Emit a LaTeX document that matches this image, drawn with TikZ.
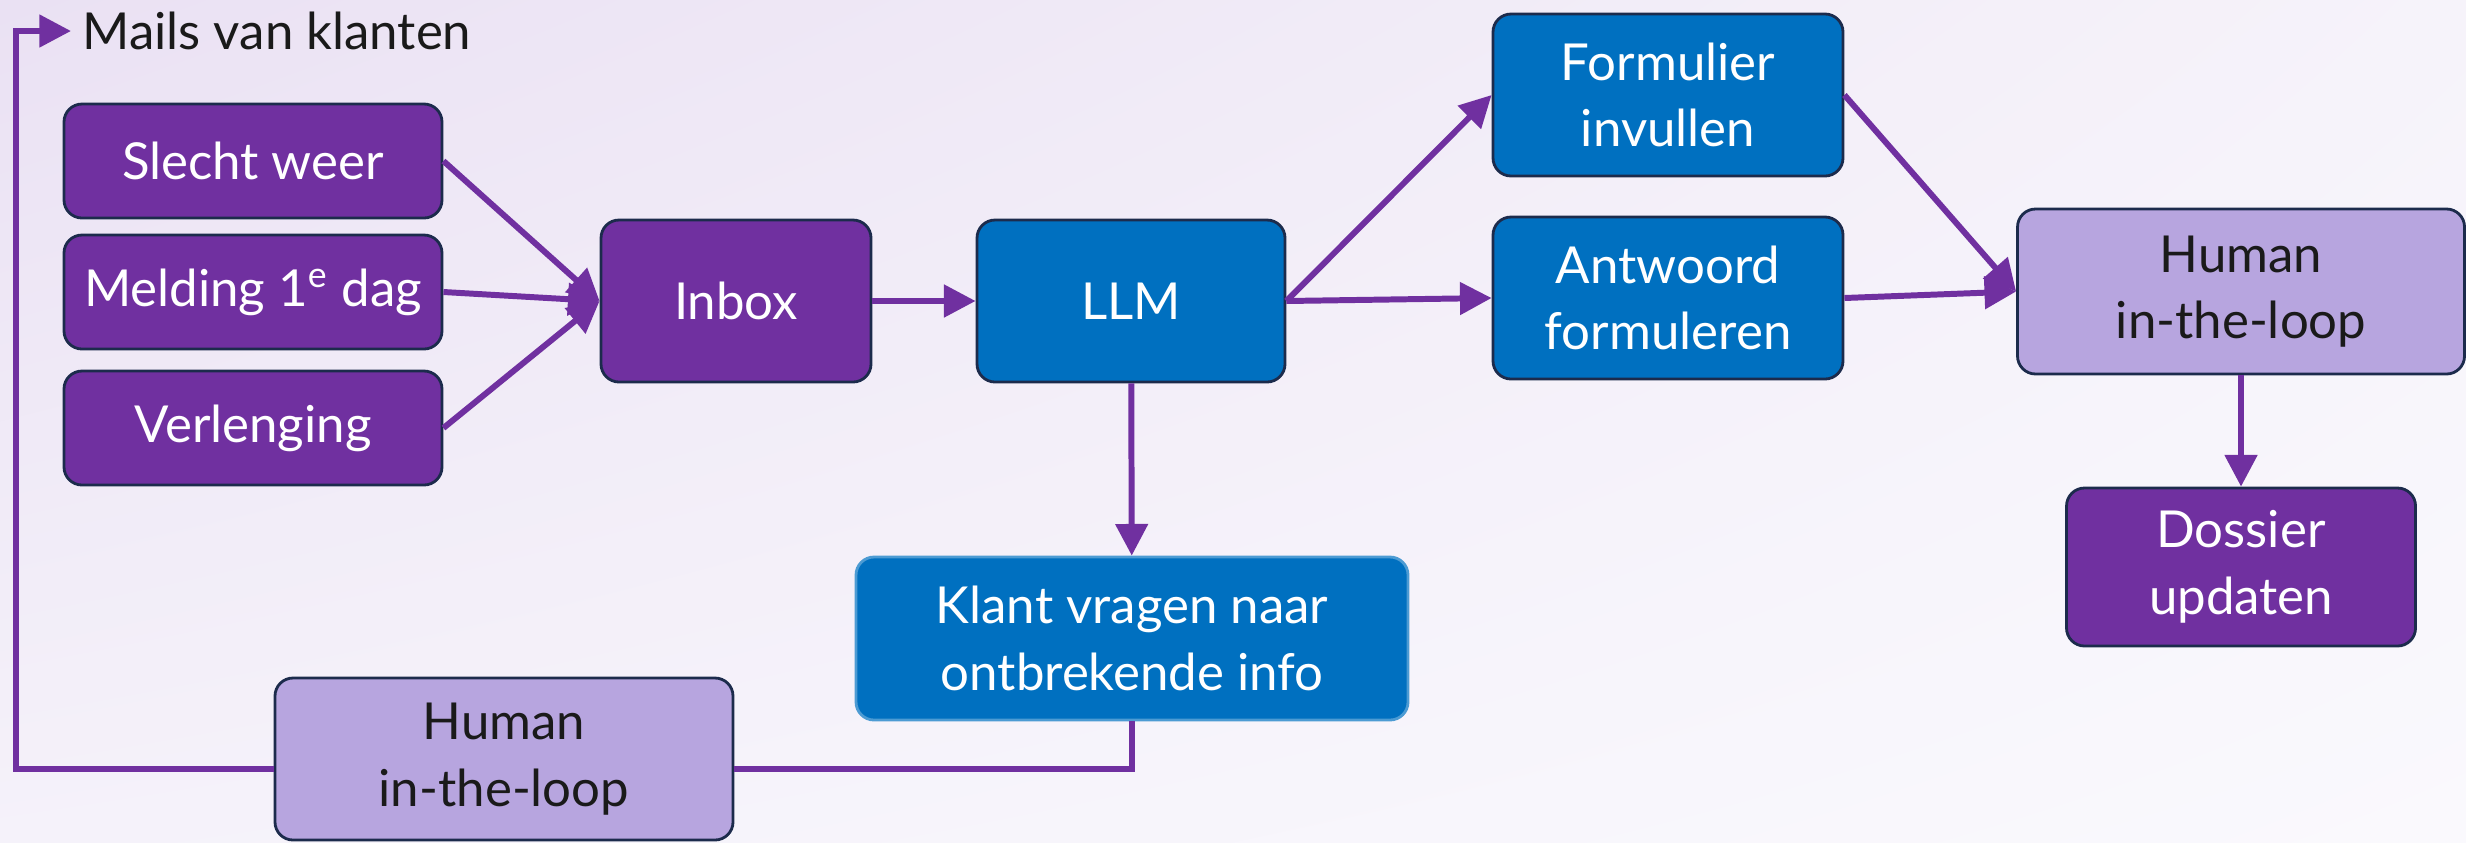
\documentclass[tikz,border=0pt]{standalone}
\usepackage{fontspec}
\setmainfont{Lato}
\usetikzlibrary{arrows.meta,shadings}
\definecolor{paars}{HTML}{7030A0}
\definecolor{blauw}{HTML}{0070C0}
\definecolor{lila}{HTML}{B7A5DF}
\definecolor{rand}{HTML}{1C2B4C}
\definecolor{inkt}{HTML}{1A1A1A}
\definecolor{achterA}{HTML}{EAE1F3}
\definecolor{achterB}{HTML}{F6F3FA}
\definecolor{achterC}{HTML}{F5F2FA}
\definecolor{achterD}{HTML}{FAF9FD}

\begin{document}
\begin{tikzpicture}[>={Triangle[length=9pt,width=9pt]},
  box/.style={rounded corners=.18cm,draw=rand,line width=.8pt,
    align=center,inner sep=0pt,font=\fontsize{14.5}{19}\selectfont},
  bron/.style={box,fill=paars,text=white,minimum width=3.78cm,
    minimum height=1.14cm},
  stap/.style={box,fill=blauw,text=white,minimum width=3.5cm,
    minimum height=1.62cm},
  mens/.style={box,fill=lila,text=inkt,minimum width=4.58cm,
    minimum height=1.62cm},
  pijl/.style={->,paars,line width=1.7pt}]
  % background
  \shade[upper left=achterA,upper right=achterB,
    lower left=achterC,lower right=achterD]
    (0,0) rectangle (24.66,-8.42);

  % incoming mails
  \node[anchor=west,text=inkt,inner xsep=1.1mm,
    font=\fontsize{14.5}{19}\selectfont]
    (mails) at (.71,-.31) {Mails van klanten};
  \node[bron] (weer) at (2.53,-1.61) {Slecht weer};
  \node[bron] (melding) at (2.53,-2.92) {Melding 1\textsuperscript{e} dag};
  \node[bron] (verl) at (2.53,-4.28) {Verlenging};
  \node[bron,minimum width=2.7cm,minimum height=1.62cm]
    (inbox) at (7.36,-3.01) {Inbox};

  % processing
  \node[stap,minimum width=3.08cm] (llm) at (11.31,-3.01) {LLM};
  \node[stap] (form) at (16.68,-.95) {Formulier\\invullen};
  \node[stap] (antw) at (16.68,-2.98) {Antwoord\\formuleren};
  \node[stap,draw=blauw!70!white,minimum width=5.52cm,minimum height=1.63cm]
    (klant) at (11.32,-6.385) {Klant vragen naar\\ontbrekende info};

  % review
  \node[mens,minimum width=4.47cm,minimum height=1.65cm]
    (hum1) at (22.41,-2.915) {Human\\in-the-loop};
  \node[bron,minimum width=3.49cm,minimum height=1.58cm]
    (dossier) at (22.41,-5.67) {Dossier\\updaten};
  \node[mens] (hum2) at (5.04,-7.59) {Human\\in-the-loop};

  % feedback loop
  \coordinate (hoek) at (.16,-.31);
  \draw[paars,line width=1.7pt] (klant.south) |- ([yshift=-1mm]hum2.east);
  \draw[pijl] ([yshift=-1mm]hum2.west) -| (hoek) -- (mails.west);

  \draw[pijl] (weer.east) -- (inbox.west);
  \draw[pijl] (melding.east) -- (inbox.west);
  \draw[pijl] (verl.east) -- (inbox.west);
  \draw[pijl] (inbox) -- (llm);
  \draw[pijl] (llm.east) -- (form.west);
  \draw[pijl] (llm.east) -- (antw.west);
  \draw[pijl] (llm) -- (klant);
  \draw[pijl] (form.east) -- (hum1.west);
  \draw[pijl] (antw.east) -- (hum1.west);
  \draw[pijl] (hum1) -- (dossier);
\end{tikzpicture}
\end{document}
